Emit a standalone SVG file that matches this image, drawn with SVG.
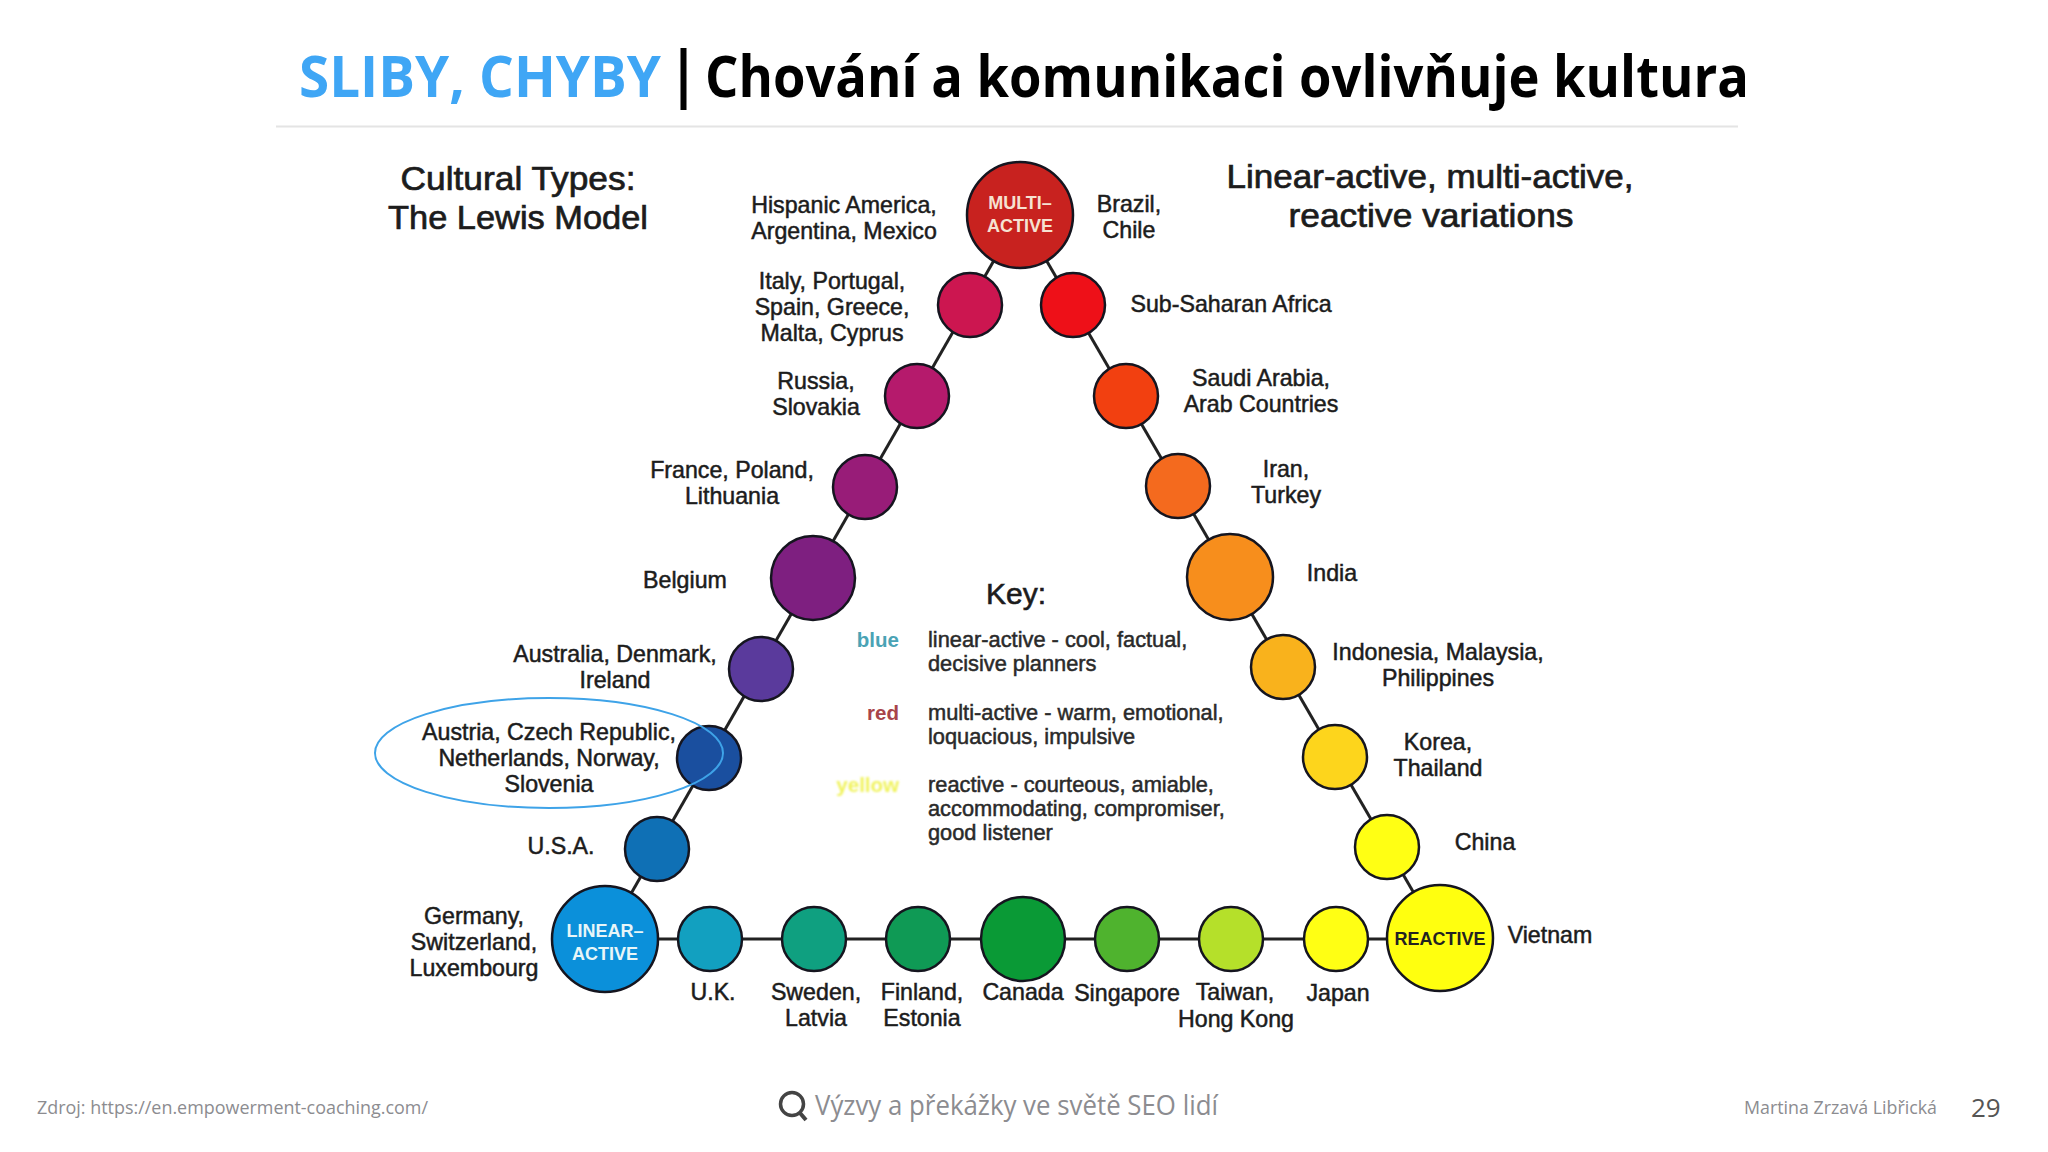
<svg xmlns="http://www.w3.org/2000/svg" width="2048" height="1152" viewBox="0 0 2048 1152">
<style>
text{font-family:"Liberation Sans",Arial,sans-serif}
.n{stroke:#15151f;stroke-width:2.5}
.l{font-size:23.2px;fill:#1c1c1c;stroke:#1c1c1c;stroke-width:.5;text-anchor:middle}
.h{font-size:33px;fill:#1c1c1c;stroke:#1c1c1c;stroke-width:.7;text-anchor:middle}
.k{font-size:21.8px;fill:#2a2a2a;stroke:#2a2a2a;stroke-width:.5}
.c{font-size:18px;font-weight:bold;text-anchor:middle}
.t{font-family:"Open Sans",sans-serif;font-size:57px;font-weight:700}
.f{font-family:"Open Sans",sans-serif;fill:#8c8c90}
#connectors line{stroke:#222;stroke-width:3}
</style>
<defs><filter id="soft" x="-10%" y="-30%" width="120%" height="160%"><feGaussianBlur stdDeviation="1.2"/></filter></defs>
<rect width="2048" height="1152" fill="#fff"/>
<g id="header">
<text class="t" x="299" y="97" fill="#3fa6f5" textLength="362" lengthAdjust="spacingAndGlyphs">SLIBY, CHYBY</text>
<rect x="680.500" y="48" width="6" height="62" fill="#000"/>
<text class="t" x="705" y="97" fill="#000" textLength="1044" lengthAdjust="spacingAndGlyphs">Chování a komunikaci ovlivňuje kultura</text>
<line x1="276" y1="126.500" x2="1738" y2="126.500" stroke="#e4e4e4" stroke-width="2"/>
</g>
<g id="headings">
<text class="h" x="518" y="190" textLength="235" lengthAdjust="spacingAndGlyphs">Cultural Types:</text>
<text class="h" x="518" y="229" textLength="260" lengthAdjust="spacingAndGlyphs">The Lewis Model</text>
<text class="h" x="1430" y="188" textLength="407" lengthAdjust="spacingAndGlyphs">Linear-active, multi-active,</text>
<text class="h" x="1431" y="227" textLength="285" lengthAdjust="spacingAndGlyphs">reactive variations</text>
</g>
<g id="connectors">
<line x1="1020" y1="215" x2="605" y2="939"/>
<line x1="1020" y1="215" x2="1440" y2="938"/>
<line x1="605" y1="939" x2="1440" y2="939"/>
</g>
<g id="multi-active"><circle class="n" cx="1020" cy="215" r="53" fill="#c8221f"/><text class="c" x="1020" y="209" fill="#f6e2d2">MULTI–</text><text class="c" x="1020" y="232" fill="#f6e2d2">ACTIVE</text>
<text class="l" x="844" y="213">Hispanic America,</text><text class="l" x="844" y="239">Argentina, Mexico</text><text class="l" x="1129" y="212">Brazil,</text><text class="l" x="1129" y="238">Chile</text></g>
<g id="n-italy"><circle class="n" cx="970" cy="305" r="32" fill="#cc1650"/><text class="l" x="832" y="289">Italy, Portugal,</text><text class="l" x="832" y="315">Spain, Greece,</text><text class="l" x="832" y="341">Malta, Cyprus</text></g>
<g id="n-africa"><circle class="n" cx="1073" cy="305" r="32" fill="#ee1018"/><text class="l" x="1231" y="312">Sub-Saharan Africa</text></g>
<g id="n-russia"><circle class="n" cx="917" cy="396" r="32" fill="#b51a6c"/><text class="l" x="816" y="389">Russia,</text><text class="l" x="816" y="415">Slovakia</text></g>
<g id="n-saudi"><circle class="n" cx="1126" cy="396" r="32" fill="#f24010"/><text class="l" x="1261" y="386">Saudi Arabia,</text><text class="l" x="1261" y="412">Arab Countries</text></g>
<g id="n-france"><circle class="n" cx="865" cy="487" r="32" fill="#981c78"/><text class="l" x="732" y="478">France, Poland,</text><text class="l" x="732" y="504">Lithuania</text></g>
<g id="n-iran"><circle class="n" cx="1178" cy="486" r="32" fill="#f46a1e"/><text class="l" x="1286" y="477">Iran,</text><text class="l" x="1286" y="503">Turkey</text></g>
<g id="n-belgium"><circle class="n" cx="813" cy="578" r="42" fill="#7e1f80"/><text class="l" x="685" y="588">Belgium</text></g>
<g id="n-india"><circle class="n" cx="1230" cy="577" r="43" fill="#f78e1c"/><text class="l" x="1332" y="581">India</text></g>
<g id="n-australia"><circle class="n" cx="761" cy="669" r="32" fill="#5a3a9c"/><text class="l" x="615" y="662">Australia, Denmark,</text><text class="l" x="615" y="688">Ireland</text></g>
<g id="n-indonesia"><circle class="n" cx="1283" cy="667" r="32" fill="#f9b21c"/><text class="l" x="1438" y="660">Indonesia, Malaysia,</text><text class="l" x="1438" y="686">Philippines</text></g>
<g id="n-austria"><circle class="n" cx="709" cy="758" r="32" fill="#1a4f9f"/><text class="l" x="549" y="740">Austria, Czech Republic,</text><text class="l" x="549" y="766">Netherlands, Norway,</text><text class="l" x="549" y="792">Slovenia</text></g>
<g id="n-korea"><circle class="n" cx="1335" cy="757" r="32" fill="#fdd51c"/><text class="l" x="1438" y="750">Korea,</text><text class="l" x="1438" y="776">Thailand</text></g>
<g id="n-usa"><circle class="n" cx="657" cy="849" r="32" fill="#0f70b5"/><text class="l" x="561" y="854">U.S.A.</text></g>
<g id="n-china"><circle class="n" cx="1387" cy="847" r="32" fill="#ffff14"/><text class="l" x="1485" y="850">China</text></g>
<g id="linear-active"><circle class="n" cx="605" cy="939" r="53" fill="#0b90da"/><text class="c" x="605" y="937" fill="#e8f6f8">LINEAR–</text><text class="c" x="605" y="960" fill="#e8f6f8">ACTIVE</text>
<text class="l" x="474" y="924">Germany,</text><text class="l" x="474" y="950">Switzerland,</text><text class="l" x="474" y="976">Luxembourg</text></g>
<g id="reactive"><circle class="n" cx="1440" cy="938" r="53" fill="#ffff0f"/><text class="c" x="1440" y="945" fill="#222">REACTIVE</text><text class="l" x="1550" y="943">Vietnam</text></g>
<g id="n-uk"><circle class="n" cx="710" cy="939" r="32" fill="#12a0c0"/><text class="l" x="713" y="1000">U.K.</text></g>
<g id="n-sweden"><circle class="n" cx="814" cy="939" r="32" fill="#0fa080"/><text class="l" x="816" y="1000">Sweden,</text><text class="l" x="816" y="1026">Latvia</text></g>
<g id="n-finland"><circle class="n" cx="918" cy="939" r="32" fill="#0f9a55"/><text class="l" x="922" y="1000">Finland,</text><text class="l" x="922" y="1026">Estonia</text></g>
<g id="n-canada"><circle class="n" cx="1023" cy="939" r="42" fill="#0a9a36"/><text class="l" x="1023" y="1000">Canada</text></g>
<g id="n-singapore"><circle class="n" cx="1127" cy="939" r="32" fill="#4fb32e"/><text class="l" x="1127" y="1001">Singapore</text></g>
<g id="n-taiwan"><circle class="n" cx="1231" cy="939" r="32" fill="#b5e02a"/><text class="l" x="1235" y="1000">Taiwan,</text><text class="l" x="1236" y="1027">Hong Kong</text></g>
<g id="n-japan"><circle class="n" cx="1336" cy="939" r="32" fill="#ffff14"/><text class="l" x="1338" y="1001">Japan</text></g>
<g id="key">
<text x="1016" y="604" style="font-size:30px;fill:#1c1c1c;stroke:#1c1c1c;stroke-width:.6;text-anchor:middle">Key:</text>
<text x="899" y="647" style="font-size:20.500px;font-weight:bold;fill:#4aa3b5;text-anchor:end">blue</text>
<text x="899" y="720" style="font-size:20.500px;font-weight:bold;fill:#a8444a;text-anchor:end">red</text>
<text x="899" y="792" filter="url(#soft)" style="font-size:20.500px;font-weight:bold;fill:#f0f35a;text-anchor:end">yellow</text>
<text class="k" x="928" y="647">linear-active - cool, factual,</text>
<text class="k" x="928" y="671">decisive planners</text>
<text class="k" x="928" y="720">multi-active - warm, emotional,</text>
<text class="k" x="928" y="744">loquacious, impulsive</text>
<text class="k" x="928" y="792">reactive - courteous, amiable,</text>
<text class="k" x="928" y="816">accommodating, compromiser,</text>
<text class="k" x="928" y="840">good listener</text>
</g>
<ellipse id="highlight" cx="549" cy="753" rx="174" ry="55" fill="none" stroke="#3ea3e8" stroke-width="2"/>
<g id="footer">
<text class="f" x="37" y="1114" font-size="19" textLength="391" lengthAdjust="spacingAndGlyphs">Zdroj: https://en.empowerment-coaching.com/</text>
<circle cx="792" cy="1104" r="11.500" fill="none" stroke="#444" stroke-width="3.500"/>
<line x1="800" y1="1113" x2="806" y2="1120" stroke="#444" stroke-width="4"/>
<text class="f" x="815" y="1115" font-size="28" textLength="403" lengthAdjust="spacingAndGlyphs">Výzvy a překážky ve světě SEO lidí</text>
<text class="f" x="1744" y="1114" font-size="18.500" textLength="193" lengthAdjust="spacingAndGlyphs">Martina Zrzavá Libřická</text>
<text x="1971" y="1117" style="font-family:'Open Sans',sans-serif;font-size:26px;fill:#555">29</text>
</g>
</svg>
